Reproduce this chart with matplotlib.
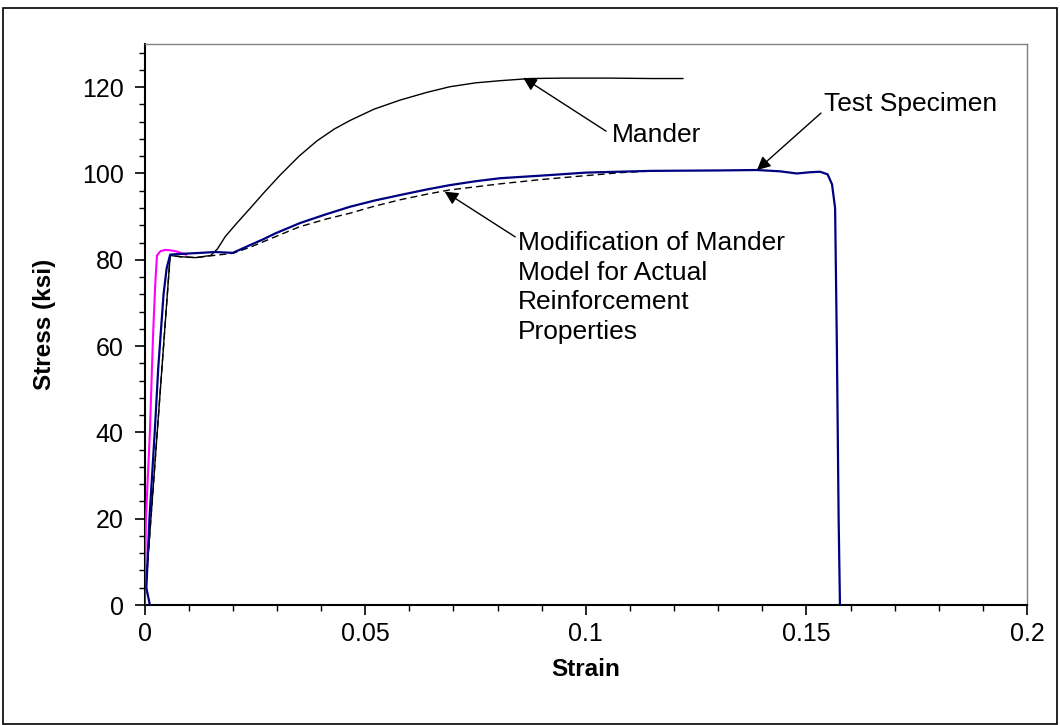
import matplotlib
matplotlib.use("Agg")
import matplotlib.pyplot as plt
from matplotlib.ticker import MultipleLocator, FuncFormatter
from matplotlib.patches import Rectangle

plt.rcParams['font.family'] = ['Liberation Sans', 'DejaVu Sans']

# ---- data (strain, stress in ksi) ----
test_strain = [0.0012, 0.0004, 0.0011, 0.0023, 0.0031, 0.0043, 0.0050, 0.0058, 0.0090,
               0.0126, 0.0160, 0.0200, 0.0239, 0.0270, 0.0296, 0.0352, 0.0410, 0.0466,
               0.0520, 0.0579, 0.0640, 0.0692, 0.0750, 0.0806, 0.0914, 0.1000, 0.1146,
               0.1300, 0.1387, 0.1440, 0.1478, 0.1510, 0.1531, 0.1548, 0.1558, 0.1565,
               0.1569, 0.1573, 0.1576]
test_stress = [0, 4, 20, 40, 55, 72, 78, 81.2, 81.4,
               81.6, 81.8, 81.6, 83.4, 84.8, 86.1, 88.5, 90.5, 92.3,
               93.7, 95.0, 96.3, 97.3, 98.2, 98.9, 99.6, 100.2, 100.6,
               100.7, 100.8, 100.5, 100.0, 100.3, 100.4, 99.8, 97.5, 92,
               60, 20, 0]

pink_strain = [0.0, 0.0003, 0.0012, 0.0019, 0.0024, 0.0028, 0.0036, 0.0047, 0.0057,
               0.0070, 0.0082, 0.0094]
pink_stress = [0, 20, 40, 62, 74, 81, 82.0, 82.3, 82.2, 82.0, 81.6, 81.2]

mander_strain = [0.0, 0.0058, 0.0082, 0.0116, 0.0150, 0.0165, 0.0183, 0.0210, 0.0239,
                 0.0270, 0.0307, 0.0350, 0.0390, 0.0430, 0.0466, 0.0520, 0.0579, 0.0640,
                 0.0692, 0.0750, 0.0806, 0.0874, 0.0950, 0.1050, 0.1150, 0.1220]
mander_stress = [0, 81, 80.7, 80.5, 81.0, 82.5, 85.4, 88.6, 91.9,
                 95.5, 99.6, 104.0, 107.5, 110.3, 112.3, 114.9, 117.0, 118.8,
                 120.1, 121.0, 121.5, 122.0, 122.1, 122.1, 122.0, 122.0]

mod_strain = [0.0, 0.0058, 0.0082, 0.0116, 0.0157, 0.0200, 0.0239, 0.0300, 0.0350,
              0.0410, 0.0466, 0.0520, 0.0579, 0.0640, 0.0692, 0.0750, 0.0806, 0.0900,
              0.1000, 0.1080, 0.1137]
mod_stress = [0, 81, 80.7, 80.5, 81.0, 81.5, 82.9, 85.5, 87.6,
              89.4, 90.8, 92.4, 93.9, 95.2, 96.2, 96.9, 97.6, 98.6,
              99.5, 100.2, 100.5]

fig = plt.figure(figsize=(10.6, 7.25), dpi=100)
fig.patch.set_facecolor('white')
fig.patches.append(Rectangle((3/1060, 0.002), 1054/1060, 716/725, transform=fig.transFigure,
                             fill=False, edgecolor='black', linewidth=1.2))

ax = fig.add_axes([0.1364, 0.1655, 0.8325, 0.7738])

ax.plot(mod_strain, mod_stress, color='black', lw=1.0, ls=(0, (5, 3)), zorder=2)
ax.plot(mander_strain, mander_stress, color='black', lw=1.0, zorder=3)
ax.plot(pink_strain, pink_stress, color='#FF00FF', lw=1.5, zorder=3)
ax.plot(test_strain, test_stress, color='#000080', lw=1.6, zorder=4)

ax.set_xlim(0, 0.2)
ax.set_ylim(0, 130)
ax.xaxis.set_major_locator(MultipleLocator(0.05))
ax.xaxis.set_minor_locator(MultipleLocator(0.01))
ax.yaxis.set_major_locator(MultipleLocator(20))
ax.yaxis.set_minor_locator(MultipleLocator(4))
ax.xaxis.set_major_formatter(FuncFormatter(lambda v, p: '%g' % round(v, 3)))
ax.yaxis.set_major_formatter(FuncFormatter(lambda v, p: '%g' % v))

ax.tick_params(which='major', direction='out', length=7, width=1.2, labelsize=18)
ax.tick_params(which='minor', direction='out', length=4, width=1.0)
ax.tick_params(axis='x', which='major', pad=5)
ax.tick_params(axis='y', which='major', pad=8)
ax.tick_params(top=False, right=False, which='both')

for s in ['left', 'bottom']:
    ax.spines[s].set_color('black')
    ax.spines[s].set_linewidth(1.5)
for s in ['top', 'right']:
    ax.spines[s].set_color('#808080')
    ax.spines[s].set_linewidth(1.0)

ax.set_xlabel('Strain', fontsize=17.5, fontweight='bold')
ax.set_ylabel('Stress (ksi)', fontsize=17.5, fontweight='bold')
ax.xaxis.set_label_coords(0.5, -0.094)
ax.yaxis.set_label_coords(-0.100, 0.5)

FS = 19
arrow = dict(arrowstyle='-|>', color='black', lw=1.0, mutation_scale=20,
             shrinkA=0, shrinkB=0)
ax.annotate('', xy=(0.0858, 122.2), xytext=(0.1046, 109.8), arrowprops=arrow, zorder=5)
ax.text(0.1058, 108.8, 'Mander', fontsize=FS, ha='left', va='center')

ax.annotate('', xy=(0.1388, 100.8), xytext=(0.1533, 114.0), arrowprops=arrow, zorder=5)
ax.text(0.1540, 116.0, 'Test Specimen', fontsize=FS, ha='left', va='center')

ax.annotate('', xy=(0.0680, 95.8), xytext=(0.0840, 85.3), arrowprops=arrow, zorder=5)
ax.text(0.0846, 86.6, 'Modification of Mander\nModel for Actual\nReinforcement\nProperties',
        fontsize=FS, ha='left', va='top', linespacing=1.29)

fig.savefig('out.png', dpi=100, facecolor='white')
